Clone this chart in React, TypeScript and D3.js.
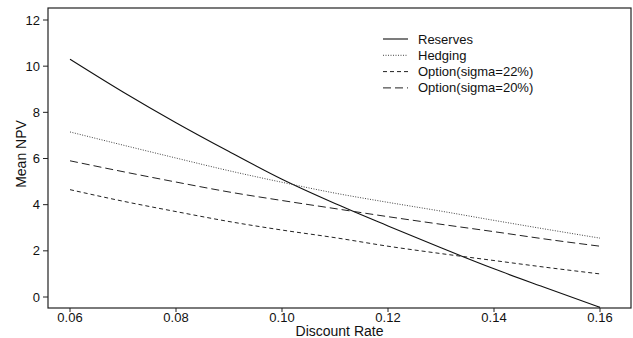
import React from "react";
import * as d3 from "d3";

const rates = [0.06, 0.07, 0.08, 0.09, 0.1, 0.11, 0.12, 0.13, 0.14, 0.15, 0.16];
const reserves = [10.3, 8.88, 7.55, 6.3, 5.1, 4.05, 3.08, 2.13, 1.22, 0.38, -0.45];
const hedging = [7.15, 6.58, 6.02, 5.47, 4.97, 4.5, 4.1, 3.72, 3.32, 2.93, 2.55];
const option22 = [4.65, 4.15, 3.7, 3.27, 2.9, 2.57, 2.2, 1.88, 1.58, 1.28, 1.0];
const option20 = [5.9, 5.43, 4.98, 4.55, 4.18, 3.83, 3.48, 3.15, 2.83, 2.5, 2.2];
const xTicks = [0.06, 0.08, 0.1, 0.12, 0.14, 0.16];
const yTicks = [0, 2, 4, 6, 8, 10, 12];

const seriesList = [
  { name: "Reserves", values: reserves, dash: "", color: "#111", width: 1.1 },
  { name: "Hedging", values: hedging, dash: "1,1.5", color: "#444", width: 1 },
  { name: "Option(sigma=22%)", values: option22, dash: "4,3", color: "#222", width: 1 },
  { name: "Option(sigma=20%)", values: option20, dash: "8,4", color: "#222", width: 1 },
];

const W = 633;
const H = 338;
const box = { left: 48, right: 631, top: 8, bottom: 308 };

export default function App() {
  const x = d3.scaleLinear().domain([0.06, 0.16]).range([70, 600]);
  const y = d3.scaleLinear().domain([0, 12]).range([297, 20]);
  const line = d3
    .line<number>()
    .x((_, i) => x(rates[i]))
    .y((d) => y(d))
    .curve(d3.curveMonotoneX);
  const font = "'Liberation Sans', Arial, sans-serif";

  return (
    <svg
      width={W}
      height={H}
      style={{ position: "absolute", left: 0, top: 0, background: "#fff" }}
      fontFamily={font}
    >
      <rect
        x={box.left}
        y={box.top}
        width={box.right - box.left}
        height={box.bottom - box.top}
        fill="none"
        stroke="#222"
        strokeWidth={1.2}
      />
      {yTicks.map((t) => (
        <g key={"y" + t}>
          <line x1={box.left - 5} x2={box.left} y1={y(t)} y2={y(t)} stroke="#222" />
          <text x={box.left - 8} y={y(t)} dy="0.35em" textAnchor="end" fontSize={13} fill="#111">
            {t}
          </text>
        </g>
      ))}
      {xTicks.map((t) => (
        <g key={"x" + t}>
          <line x1={x(t)} x2={x(t)} y1={box.bottom} y2={box.bottom + 4} stroke="#222" />
          <text x={x(t)} y={322} textAnchor="middle" fontSize={13} fill="#111">
            {d3.format(".2f")(t)}
          </text>
        </g>
      ))}
      <text x={(box.left + box.right) / 2} y={335.5} textAnchor="middle" fontSize={14} fill="#111">
        Discount Rate
      </text>
      <text
        transform={`translate(26,154) rotate(-90)`}
        textAnchor="middle"
        fontSize={14}
        fill="#111"
      >
        Mean NPV
      </text>
      {seriesList.map((s) => (
        <path
          key={s.name}
          d={line(s.values) || ""}
          fill="none"
          stroke={s.color}
          strokeWidth={s.width}
          strokeDasharray={s.dash}
        />
      ))}
      {seriesList.map((s, i) => {
        const ly = 39 + i * 16.3;
        return (
          <g key={"lg" + s.name}>
            <line
              x1={383}
              x2={408}
              y1={ly}
              y2={ly}
              stroke={s.color}
              strokeWidth={s.width}
              strokeDasharray={s.dash}
            />
            <text x={418} y={ly} dy="0.35em" fontSize={13} fill="#111">
              {s.name}
            </text>
          </g>
        );
      })}
    </svg>
  );
}
